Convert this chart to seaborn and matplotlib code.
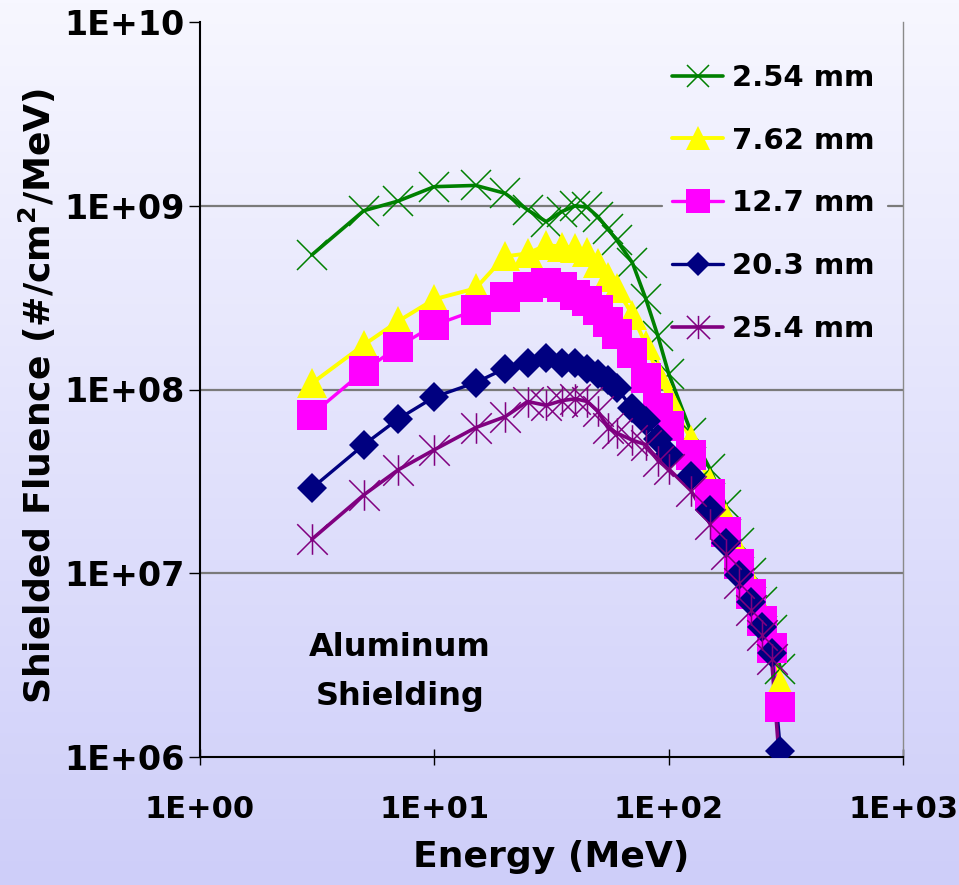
import numpy as np
import pandas as pd
import matplotlib
matplotlib.use("Agg")
import matplotlib.pyplot as plt
import seaborn as sns
from matplotlib.path import Path
from matplotlib.lines import Line2D
from matplotlib.ticker import FixedLocator, FuncFormatter, NullLocator

# ---------------- data ----------------
energy = [3, 5, 7, 10, 15, 20, 25, 30, 35, 40, 45, 50, 55, 60, 70, 80, 90, 100,
          125, 150, 175, 200, 225, 250, 275, 300]

al_254 = [5.4e8, 9.4e8, 1.06e9, 1.27e9, 1.29e9, 1.17e9, 9.5e8, 8.2e8, 9.3e8, 1.0e9,
          9.8e8, 8.7e8, 7.5e8, 6.5e8, 4.9e8, 3.1e8, 1.95e8, 1.22e8, 5.8e7, 3.7e7,
          2.35e7, 1.46e7, 1.0e7, 7.0e6, 4.9e6, 3.0e6]
al_762 = [1.08e8, 1.75e8, 2.35e8, 3.1e8, 3.55e8, 5.3e8, 5.5e8, 6.1e8, 6.0e8, 5.9e8,
          5.6e8, 4.9e8, 4.1e8, 3.55e8, 2.55e8, 1.75e8, 1.22e8, 9.0e7, 5.3e7, 3.1e7,
          2.0e7, 1.3e7, 9.0e6, 6.2e6, 4.3e6, 2.5e6]
al_127 = [7.3e7, 1.26e8, 1.71e8, 2.24e8, 2.7e8, 3.18e8, 3.6e8, 3.8e8, 3.6e8, 3.25e8,
          3.05e8, 2.72e8, 2.34e8, 2.0e8, 1.58e8, 1.15e8, 7.9e7, 6.3e7, 4.4e7, 2.7e7,
          1.68e7, 1.12e7, 7.7e6, 5.5e6, 3.9e6, 1.86e6]
al_203 = [2.9e7, 5.0e7, 6.9e7, 9.1e7, 1.09e8, 1.3e8, 1.39e8, 1.48e8, 1.39e8, 1.39e8,
          1.3e8, 1.22e8, 1.13e8, 1.02e8, 7.9e7, 6.7e7, 5.4e7, 4.4e7, 3.4e7, 2.2e7,
          1.46e7, 9.8e6, 7.0e6, 5.1e6, 3.7e6, 1.08e6]
al_254b = [1.53e7, 2.67e7, 3.65e7, 4.7e7, 6.2e7, 7.1e7, 8.6e7, 8.2e7, 8.7e7, 8.9e7,
           8.6e7, 7.6e7, 6.2e7, 5.8e7, 5.3e7, 5.0e7, 4.1e7, 3.7e7, 2.8e7, 1.86e7,
           1.28e7, 8.8e6, 6.3e6, 4.6e6, 3.4e6, 8.0e5]

series_labels = ["2.54 mm", "7.62 mm", "12.7 mm", "20.3 mm", "25.4 mm"]
series_values = [al_254, al_762, al_127, al_203, al_254b]

x_ticks = [1, 10, 100, 1000]
y_ticks = [1e6, 1e7, 1e8, 1e9, 1e10]

# ---------------- style ----------------
asterisk = Path([(0, -1), (0, 1), (-1, -1), (1, 1), (-1, 1), (1, -1)],
                [Path.MOVETO, Path.LINETO, Path.MOVETO, Path.LINETO,
                 Path.MOVETO, Path.LINETO])
styles = [
    dict(color="#008000", marker="x", ms=21, mew=1.1, lw=2.6),
    dict(color="#FFFF00", marker="^", ms=22, mew=0, lw=2.8),
    dict(color="#FF00FF", marker="s", ms=22, mew=0, lw=2.4),
    dict(color="#000080", marker="D", ms=15.5, mew=0, lw=2.4),
    dict(color="#800080", marker=asterisk, ms=22, mew=1.1, lw=2.6),
]

sns.set_theme(style="white")
plt.rcParams["font.family"] = ["DejaVu Sans"]
plt.rcParams["font.weight"] = "bold"
plt.rcParams["mathtext.default"] = "bf"
plt.rcParams["text.color"] = "black"
plt.rcParams["axes.labelcolor"] = "black"
plt.rcParams["xtick.color"] = "black"
plt.rcParams["ytick.color"] = "black"

fig = plt.figure(figsize=(9.59, 8.85), dpi=100)

# gradient background
bg = fig.add_axes([0, 0, 1, 1], zorder=-10)
top = np.array([247, 247, 255]) / 255
bot = np.array([206, 206, 249]) / 255
t = np.linspace(0, 1, 256)[:, None, None]
img = top[None, None, :] + (bot - top)[None, None, :] * t
bg.imshow(img, aspect="auto", extent=[0, 1, 0, 1], origin="upper")
bg.axis("off")

ax = fig.add_axes([200 / 959, 1 - 757 / 885, 703 / 959, 735 / 885])
ax.patch.set_alpha(0)
ax.set_xscale("log")
ax.set_yscale("log")

df = pd.DataFrame({"energy": energy})
for lab, vals in zip(series_labels, series_values):
    df[lab] = vals

# lines first
for lab, st in zip(series_labels, styles):
    sns.lineplot(data=df, x="energy", y=lab, ax=ax, color=st["color"],
                 lw=st["lw"], zorder=3, legend=False)
# markers on top, in series order
for i, (lab, st) in enumerate(zip(series_labels, styles)):
    sns.lineplot(data=df, x="energy", y=lab, ax=ax, color=st["color"],
                 linestyle="", marker=st["marker"], markersize=st["ms"],
                 markeredgecolor=st["color"], markerfacecolor=st["color"],
                 markeredgewidth=st["mew"], zorder=4 + i, legend=False)

ax.set_xlim(1, 1000)
ax.set_ylim(1e6, 1e10)

fmt = FuncFormatter(lambda v, p: "1E%+03d" % int(round(np.log10(v))))
ax.xaxis.set_major_locator(FixedLocator(x_ticks))
ax.yaxis.set_major_locator(FixedLocator(y_ticks))
ax.xaxis.set_minor_locator(NullLocator())
ax.yaxis.set_minor_locator(NullLocator())
ax.xaxis.set_major_formatter(fmt)
ax.yaxis.set_major_formatter(fmt)

grid_kw = dict(color="#7a7a7a", lw=1.6, zorder=1)
ax.axhline(1e7, **grid_kw)
ax.axhline(1e8, **grid_kw)
# the legend box hides the middle of the 1E+09 gridline
ax.axhline(1e9, xmin=0, xmax=(662 - 200) / 703, **grid_kw)
ax.axhline(1e9, xmin=(888 - 200) / 703, xmax=1, **grid_kw)

for s in ["left", "bottom"]:
    ax.spines[s].set_color("black")
    ax.spines[s].set_linewidth(1.5)
ax.spines["right"].set_color("#8a8a8a")
ax.spines["right"].set_linewidth(1.0)
ax.spines["top"].set_visible(False)

ax.tick_params(axis="y", which="major", direction="out", length=8, width=1,
               color="black", labelcolor="black", labelsize=24, pad=3, left=True)
ax.tick_params(axis="x", which="major", direction="inout", length=12, width=1,
               color="black", labelcolor="black", labelsize=22, pad=21, bottom=True)
for lbl in ax.get_xticklabels() + ax.get_yticklabels():
    lbl.set_fontweight("bold")

ax.set_xlabel("")
ax.set_ylabel("")
fig.text(551 / 959, 1 - 857 / 885, "Energy (MeV)", ha="center", va="center",
         fontsize=26, fontweight="bold", color="black")
fig.text(37 / 959, 1 - 396 / 885, r"Shielded Fluence (#/cm$^{\mathbf{2}}$/MeV)",
         ha="center", va="center", rotation=90, fontsize=26, fontweight="bold",
         color="black")

fig.text(400 / 959, 1 - 648 / 885, "Aluminum", ha="center", va="center",
         fontsize=23, fontweight="bold", color="black")
fig.text(400 / 959, 1 - 697 / 885, "Shielding", ha="center", va="center",
         fontsize=23, fontweight="bold", color="black")

handles = [Line2D([], [], color=st["color"], lw=st["lw"], marker=st["marker"],
                  markersize=st["ms"] * 0.76, markeredgecolor=st["color"],
                  markerfacecolor=st["color"], markeredgewidth=st["mew"])
           for st in styles]
leg = fig.legend(handles, series_labels, loc="upper left",
                 bbox_to_anchor=(672 / 959, 1 - 64 / 885), frameon=False,
                 prop=dict(size=21, weight="bold"), handlelength=1.75,
                 handletextpad=0.3, labelspacing=1.19, borderpad=0,
                 borderaxespad=0)
for txt in leg.get_texts():
    txt.set_color("black")

fig.savefig("out.png", dpi=100)
